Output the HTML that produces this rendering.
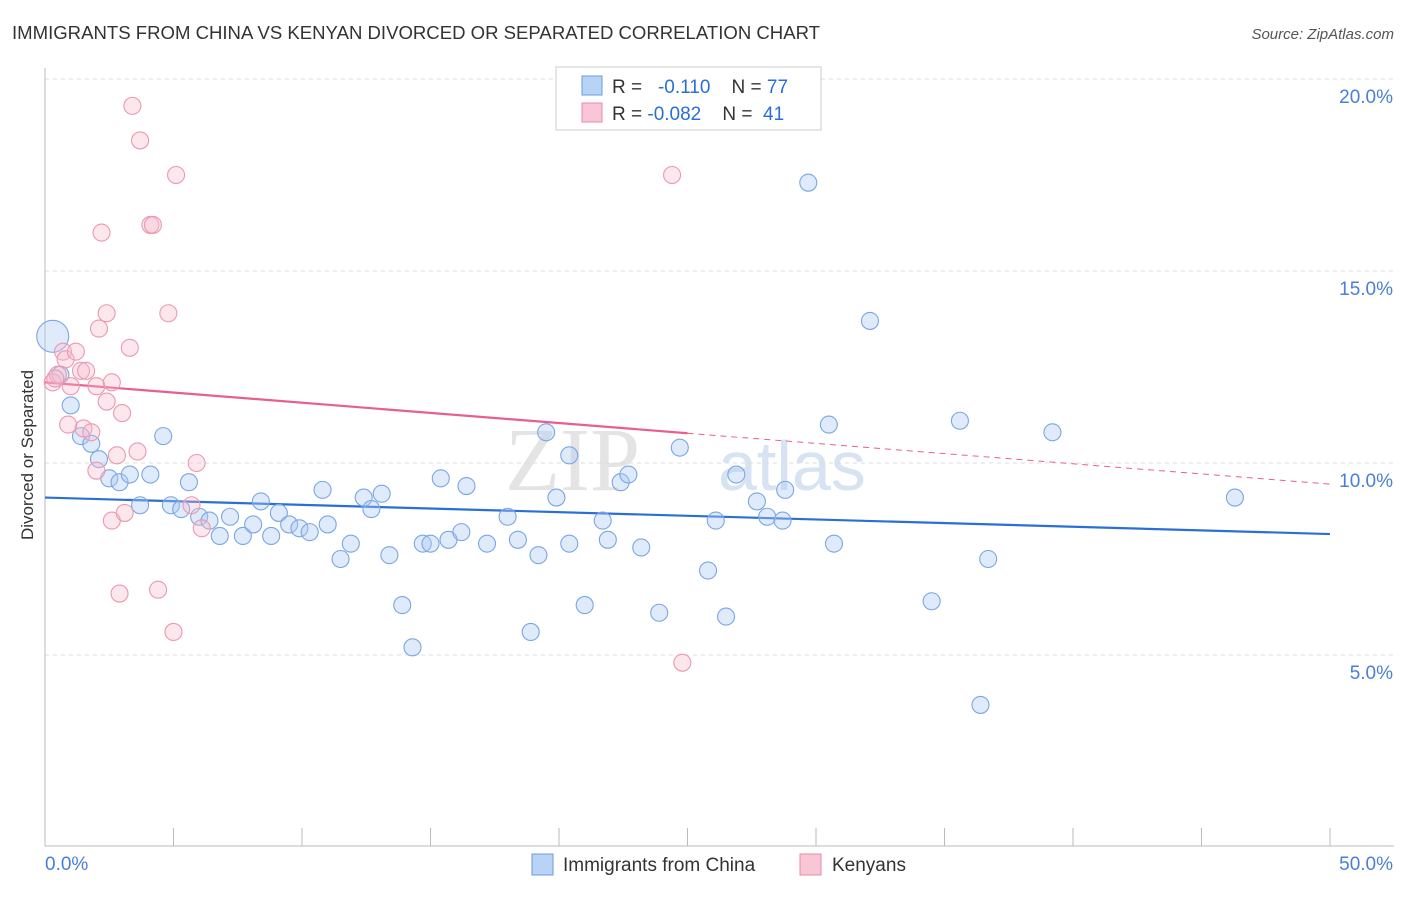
<!DOCTYPE html>
<html><head><meta charset="utf-8"><style>
body{margin:0;background:#fff;font-family:"Liberation Sans",sans-serif;}
</style></head><body>
<svg width="1406" height="892" xmlns="http://www.w3.org/2000/svg" id="chart" font-family="Liberation Sans, sans-serif">
<text x="12" y="39" font-size="18.5" fill="#333" textLength="808" lengthAdjust="spacingAndGlyphs">IMMIGRANTS FROM CHINA VS KENYAN DIVORCED OR SEPARATED CORRELATION CHART</text>
<text x="1394" y="39" font-size="15" fill="#555" text-anchor="end" font-style="italic">Source: ZipAtlas.com</text>
<text x="640" y="490" font-size="90" fill="#e4e4e4" font-family="Liberation Serif, serif" text-anchor="end">ZIP</text>
<text x="718" y="490" font-size="70" fill="#d7e3f3">atlas</text>
<text transform="translate(33,455) rotate(-90)" font-size="17" fill="#333" text-anchor="middle">Divorced or Separated</text>
<g id="grid"></g><g id="axes"></g><g id="lines"></g><g id="pts"></g>
<g>
<rect x="556" y="67" width="265" height="63" fill="#fff" stroke="#ccc"/>
<rect x="582" y="76" width="20" height="19" fill="#b8d3f5" stroke="#6a9be0"/>
<text x="612" y="93" font-size="19" fill="#333" xml:space="preserve">R =   <tspan fill="#2a6fd6">-0.110</tspan>    N = <tspan fill="#2a6fd6">77</tspan></text>
<rect x="582" y="103" width="20" height="19" fill="#f8c6d4" stroke="#e98aa8"/>
<text x="612" y="120" font-size="19" fill="#333" xml:space="preserve">R = <tspan fill="#2a6fd6">-0.082</tspan>    N =  <tspan fill="#2a6fd6">41</tspan></text>
</g>
<g>
<rect x="532" y="854" width="21" height="21" fill="#b8d3f5" stroke="#6a9be0"/>
<text x="563" y="871" font-size="19" fill="#333">Immigrants from China</text>
<rect x="800" y="854" width="21" height="21" fill="#f8c6d4" stroke="#e98aa8"/>
<text x="832" y="871" font-size="19" fill="#333">Kenyans</text>
</g>
</svg>
<script>
const yTicks=[5,10,15,20];
const xTickLabels=["0.0%","50.0%"];
const chinaX=[0.3,0.6,1.0,1.4,1.8,2.1,2.5,2.9,3.3,3.7,4.1,4.6,4.9,5.3,5.6,6.0,6.4,6.8,7.2,7.7,8.1,8.4,8.8,9.1,9.5,9.9,10.3,10.8,11.0,11.5,11.9,12.4,12.7,13.1,13.4,13.9,14.3,14.7,15.0,15.4,15.7,16.2,16.4,17.2,18.0,18.4,18.9,19.2,19.5,19.9,20.4,20.4,21.0,21.7,21.9,22.4,22.7,23.2,23.9,24.7,25.8,26.1,26.5,26.9,27.7,28.1,28.7,28.8,29.7,30.5,30.7,32.1,34.5,35.6,36.4,36.7,39.2,46.3];
const chinaY=[13.3,12.3,11.5,10.7,10.5,10.1,9.6,9.5,9.7,8.9,9.7,10.7,8.9,8.8,9.5,8.6,8.5,8.1,8.6,8.1,8.4,9.0,8.1,8.7,8.4,8.3,8.2,9.3,8.4,7.5,7.9,9.1,8.8,9.2,7.6,6.3,5.2,7.9,7.9,9.6,8.0,8.2,9.4,7.9,8.6,8.0,5.6,7.6,10.8,9.1,10.2,7.9,6.3,8.5,8.0,9.5,9.7,7.8,6.1,10.4,7.2,8.5,6.0,9.7,9.0,8.6,8.5,9.3,17.3,11.0,7.9,13.7,6.4,11.1,3.7,7.5,10.8,9.1];
const kenX=[0.3,0.5,0.7,0.8,1.0,1.2,1.4,1.5,1.8,2.0,2.0,2.1,2.2,2.4,2.4,2.6,2.6,2.8,2.9,3.0,3.1,3.3,3.4,3.6,3.7,4.1,4.2,4.4,4.8,5.0,5.1,5.7,5.9,6.1,24.4,24.8,0.9,1.6,0.4];
const kenY=[12.1,12.3,12.9,12.7,12.0,12.9,12.4,10.9,10.8,9.8,12.0,13.5,16.0,11.6,13.9,8.5,12.1,10.2,6.6,11.3,8.7,13.0,19.3,10.3,18.4,16.2,16.2,6.7,13.9,5.6,17.5,8.9,10.0,8.3,17.5,4.8,11.0,12.4,12.2];
const chinaTrend=[9.1,8.15];
const kenTrend=[12.1,9.45];
const X=v=>45+v*25.7, Y=v=>847-v*38.4;
const NS="http://www.w3.org/2000/svg";
function mk(p,t,a){const e=document.createElementNS(NS,t);for(const k in a)e.setAttribute(k,a[k]);document.getElementById(p).appendChild(e);return e;}
yTicks.forEach(t=>{
const g=mk('grid','line',{x1:45,x2:1394,y1:Y(t),y2:Y(t),stroke:'#ddd','stroke-dasharray':'4,4'});


const l=mk('axes','text',{x:1393,y:Y(t)+24,'font-size':19,fill:'#4a7fd6','text-anchor':'end'});l.textContent=t.toFixed(1)+'%';


});
const ax=mk('axes','line',{x1:45,x2:1394,y1:846,y2:846,stroke:'#bbb'});


const ay=mk('axes','line',{x1:45,x2:45,y1:68,y2:846,stroke:'#bbb'});


for(let i=0;i<=10;i++){const t=mk('axes','line',{x1:X(i*5),x2:X(i*5),y1:828,y2:846,stroke:'#bbb'});

}
const xl0=mk('axes','text',{x:45,y:870,'font-size':19,fill:'#4a7fd6'});xl0.textContent=xTickLabels[0];


const xl1=mk('axes','text',{x:1393,y:870,'font-size':19,fill:'#4a7fd6','text-anchor':'end'});xl1.textContent=xTickLabels[1];


chinaX.forEach((x,i)=>{const c=mk('pts','circle',{cx:X(x),cy:Y(chinaY[i]),r:i==0?16:8.5,fill:'rgba(170,202,242,0.38)',stroke:'#7aa6e4','stroke-width':1.1});

});
kenX.forEach((x,i)=>{const c=mk('pts','circle',{cx:X(x),cy:Y(kenY[i]),r:8.5,fill:'rgba(246,185,204,0.35)',stroke:'#eb98b2','stroke-width':1.1});

});
const bl=mk('lines','line',{x1:X(0),y1:Y(chinaTrend[0]),x2:X(50),y2:Y(chinaTrend[1]),stroke:'#2a6fd6','stroke-width':2.2});


const km=kenTrend[0]+(kenTrend[1]-kenTrend[0])*25/50;
const pl=mk('lines','line',{x1:X(0),y1:Y(kenTrend[0]),x2:X(25),y2:Y(km),stroke:'#e8608a','stroke-width':2.2});


const pd=mk('lines','line',{x1:X(25),y1:Y(km),x2:X(50),y2:Y(kenTrend[1]),stroke:'#e8608a','stroke-width':1,'stroke-dasharray':'6,5'});


</script>
</body></html>
